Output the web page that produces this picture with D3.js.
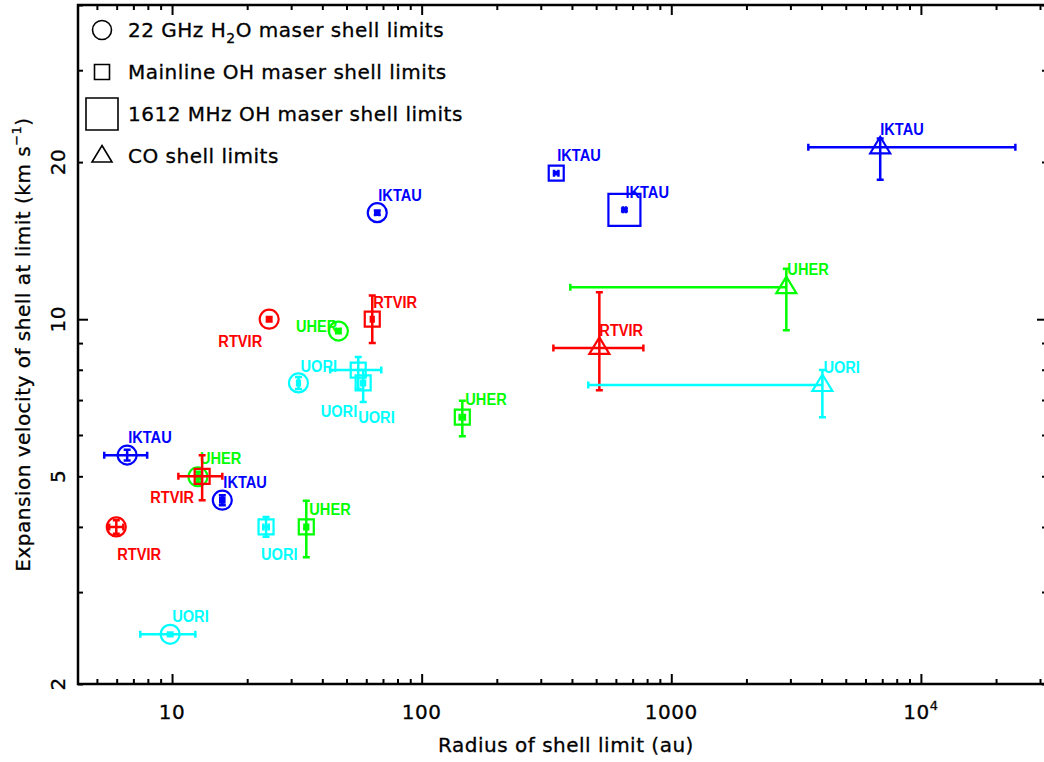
<!DOCTYPE html>
<html>
<head>
<meta charset="utf-8">
<script src="https://cdn.jsdelivr.net/npm/d3@7"></script>
<style>
  body { margin: 0; background: #fff; }
  svg { display: block; font-family: "DejaVu Sans", sans-serif; }
</style>
</head>
<body>
<script>
const width = 1044;
const height = 762;
const margins = { top: 5, right: -3, bottom: 78, left: 78 };

// one entry per shell limit
const star = [
  "IKTAU", "RTVIR", "UHER", "UORI", "IKTAU", "UHER", "IKTAU", "RTVIR", "UORI",
  "IKTAU", "RTVIR", "UORI", "UORI", "UHER", "RTVIR", "UORI", "UHER",
  "IKTAU",
  "IKTAU", "UHER", "RTVIR", "UORI",
];
const tracer = [
  "H2O", "H2O", "H2O", "H2O", "H2O", "H2O", "H2O", "H2O", "H2O",
  "OH", "OH", "OH", "OH", "OH", "OH", "OH", "OH",
  "OH1612",
  "CO", "CO", "CO", "CO",
];
const radius = [66.4, 24.5, 46.4, 32.1, 6.61, 12.7, 15.9, 5.98, 9.83,
  346, 63.4, 55.7, 58.3, 145.5, 13.2, 23.8, 34.5,
  649,
  6870, 2890, 515, 4030];
const radiusLow = [65.2, 24.0, 45.5, 31.7, 5.35, 12.4, 15.6, 5.6, 7.46,
  339, 62.6, 43.0, 57.3, 142, 10.6, 23.2, 33.9,
  640,
  3540, 394, 337, 465];
const radiusHigh = [67.6, 25.0, 47.3, 32.5, 7.95, 13.0, 16.2, 6.38, 12.4,
  353, 64.2, 68.9, 59.3, 149, 15.9, 24.4, 35.1,
  658,
  23900, 2890, 773, 4030];
const velocity = [16.0, 10.0, 9.49, 7.55, 5.49, 4.99, 4.5, 4.0, 2.49,
  19.05, 10.0, 7.99, 7.55, 6.49, 5.0, 4.0, 4.0,
  16.2,
  21.35, 11.52, 8.81, 7.48];
const velocityLow = [15.85, 9.9, 9.4, 7.35, 5.36, 4.88, 4.4, 3.88, 2.47,
  18.95, 9.0, 7.35, 6.94, 5.97, 4.5, 3.83, 3.5,
  16.1,
  18.5, 9.52, 7.31, 6.49];
const velocityHigh = [16.15, 10.1, 9.58, 7.75, 5.62, 5.1, 4.6, 4.12, 2.51,
  19.15, 11.1, 8.46, 7.99, 6.98, 5.49, 4.18, 4.49,
  16.3,
  22.2, 12.5, 11.26, 7.99];

const xTickLabels = ["10", "100", "1000", "10^4"];
const yTickLabels = [2, 5, 10, 20];

const legendText = [
  "22 GHz H|2|O maser shell limits",
  "Mainline OH maser shell limits",
  "1612 MHz OH maser shell limits",
  "CO shell limits",
];
const legendTracer = ["H2O", "OH", "OH1612", "CO"];

// layout only: where each star name sits relative to its point
const labelPlace = [
  [1, -12, "start"], [-7, 28, "end"], [-1, 1, "end"], [2, -11, "start"],
  [1, -12, "start"], [2, -13, "start"], [1, -12, "start"], [1, 33, "start"],
  [2, -12, "start"],
  [1, -12, "start"], [1, -11, "start"], [-1, 47, "end"], [-5, 40, "start"],
  [3, -12, "start"], [-8, 27, "end"], [-5, 33, "start"], [3, -12, "start"],
  [1, -12, "start"],
  [0, -12, "start"], [1, -12, "start"], [0, -12, "start"], [1, -12, "start"],
];

const colour = { IKTAU: "#0000ff", RTVIR: "#ff0000", UHER: "#00ff00", UORI: "#00ffff" };

const data = d3.range(star.length).map((i) => ({
  star: star[i],
  tracer: tracer[i],
  r: radius[i], rLo: radiusLow[i], rHi: radiusHigh[i],
  v: velocity[i], vLo: velocityLow[i], vHi: velocityHigh[i],
  place: labelPlace[i],
}));

const x = d3.scaleLog()
  .domain([4.2, 32000])
  .range([margins.left, width - margins.right]);
const y = d3.scaleLog()
  .domain([2, 40])
  .range([height - margins.bottom, margins.top]);

const svg = d3.select("body").append("svg")
  .attr("width", width)
  .attr("height", height);

// marker shapes by tracer
function marker(t) {
  if (t === "H2O") return d3.symbol().type(d3.symbolCircle).size(Math.PI * 90)();
  if (t === "OH") return "M-7.5,-7.5H7.5V7.5H-7.5Z";
  if (t === "OH1612") return "M-16,-16H16V16H-16Z";
  return "M0,-10.5L10,6L-10,6Z";
}

// frame ticks
const xt = x.ticks();
const yt = y.ticks();
const isMajor = (v) => Math.abs(Math.log10(v) - Math.round(Math.log10(v))) < 1e-9;
const xMajor = xt.filter(isMajor);
const xMinor = xt.filter((v) => !isMajor(v));
const yMajor = yt.filter(isMajor);
const yMinor = yt.filter((v) => !isMajor(v));

const plotBottom = height - margins.bottom;
const plotLeft = margins.left;
const plotTop = margins.top;
const plotRight = width - margins.right;

function tickAxis(axis, values, size, tx, ty) {
  svg.append("g")
    .attr("transform", `translate(${tx},${ty})`)
    .call(axis.tickValues(values).tickSize(size).tickSizeOuter(0).tickFormat(""))
    .call((g) => g.select(".domain").remove())
    .call((g) => g.selectAll("line").attr("stroke", "#000").attr("stroke-width", 2));
}
tickAxis(d3.axisBottom(x), xMinor, -5, 0, plotBottom);
tickAxis(d3.axisBottom(x), xMajor, -10, 0, plotBottom);
tickAxis(d3.axisTop(x), xMinor, -5, 0, plotTop);
tickAxis(d3.axisTop(x), xMajor, -10, 0, plotTop);
tickAxis(d3.axisLeft(y), yMinor, -5, plotLeft, 0);
tickAxis(d3.axisLeft(y), yMajor, -10, plotLeft, 0);
tickAxis(d3.axisRight(y), yMinor, -5, plotRight, 0);
tickAxis(d3.axisRight(y), yMajor, -10, plotRight, 0);

svg.append("rect")
  .attr("x", plotLeft).attr("y", plotTop)
  .attr("width", plotRight - plotLeft).attr("height", plotBottom - plotTop)
  .attr("fill", "none").attr("stroke", "#000").attr("stroke-width", 2.5);

const textStyle = (sel) => sel
  .attr("font-size", 20)
  .attr("letter-spacing", 0.5)
  .attr("stroke", "#000")
  .attr("stroke-width", 0.3);

// x tick labels
const xl = svg.append("g").selectAll("text")
  .data(xMajor)
  .join("text")
  .attr("x", (d) => x(d))
  .attr("y", plotBottom + 35)
  .attr("text-anchor", "middle")
  .call(textStyle);
xl.each(function (d, i) {
  const parts = xTickLabels[i].split("^");
  d3.select(this).append("tspan").text(parts[0]);
  if (parts[1]) {
    d3.select(this).append("tspan").attr("dy", -9).attr("font-size", 13).text(parts[1]);
  }
});

// y tick labels, vertical
svg.append("g").selectAll("text")
  .data(yTickLabels)
  .join("text")
  .attr("transform", (d) => `translate(${plotLeft - 13},${y(d)}) rotate(-90)`)
  .attr("text-anchor", "middle")
  .call(textStyle)
  .text((d) => d);

// axis titles
svg.append("text")
  .attr("x", 566)
  .attr("y", 752)
  .attr("text-anchor", "middle")
  .call(textStyle)
  .text("Radius of shell limit (au)");

const yTitle = svg.append("text")
  .attr("transform", `translate(30,${(plotTop + plotBottom) / 2}) rotate(-90)`)
  .attr("text-anchor", "middle")
  .call(textStyle);
yTitle.append("tspan").text("Expansion velocity of shell at limit (km s");
yTitle.append("tspan").attr("dy", -9).attr("font-size", 13).text("\u22121");
yTitle.append("tspan").attr("dy", 9).text(")");

// legend
const legend = svg.append("g").selectAll("g")
  .data(legendTracer)
  .join("g")
  .attr("transform", (d, i) => `translate(102,${30 + i * 42})`);
legend.append("path")
  .attr("d", (d) => marker(d))
  .attr("fill", "none")
  .attr("stroke", "#000")
  .attr("stroke-width", 1.6);
legend.append("text")
  .attr("x", 26)
  .attr("y", 7)
  .call(textStyle)
  .each(function (d, i) {
    const parts = legendText[i].split("|");
    d3.select(this).append("tspan").text(parts[0]);
    if (parts[1]) {
      d3.select(this).append("tspan").attr("dy", 6).attr("font-size", 14).text(parts[1]);
      d3.select(this).append("tspan").attr("dy", -6).text(parts[2]);
    }
  });

// points
const pts = svg.append("g").selectAll("g")
  .data(data)
  .join("g")
  .attr("transform", (d) => `translate(${x(d.r)},${y(d.v)})`);

pts.append("path")
  .attr("d", (d) => marker(d.tracer))
  .attr("fill", "none")
  .attr("stroke", (d) => colour[d.star])
  .attr("stroke-width", 2.2);

const cap = 3.5;
pts.append("path")
  .attr("fill", "none")
  .attr("stroke", (d) => colour[d.star])
  .attr("stroke-width", 2.5)
  .attr("d", (d) => {
    const cx = x(d.r), cy = y(d.v);
    const x0 = x(d.rLo) - cx, x1 = x(d.rHi) - cx;
    const y0 = y(d.vLo) - cy, y1 = y(d.vHi) - cy;
    let p = `M${x0},0H${x1}M${x0},${-cap}V${cap}M${x1},${-cap}V${cap}`;
    p += `M0,${y0}V${y1}M${-cap},${y0}H${cap}M${-cap},${y1}H${cap}`;
    return p;
  });

pts.append("text")
  .attr("transform", (d) => `translate(${d.place[0]},${d.place[1]}) scale(0.86,1)`)
  .attr("text-anchor", (d) => d.place[2])
  .attr("font-family", "'Liberation Sans', Arial, sans-serif")
  .attr("font-weight", "bold")
  .attr("font-size", 17)
  .attr("fill", (d) => colour[d.star])
  .text((d) => d.star);
</script>
</body>
</html>
